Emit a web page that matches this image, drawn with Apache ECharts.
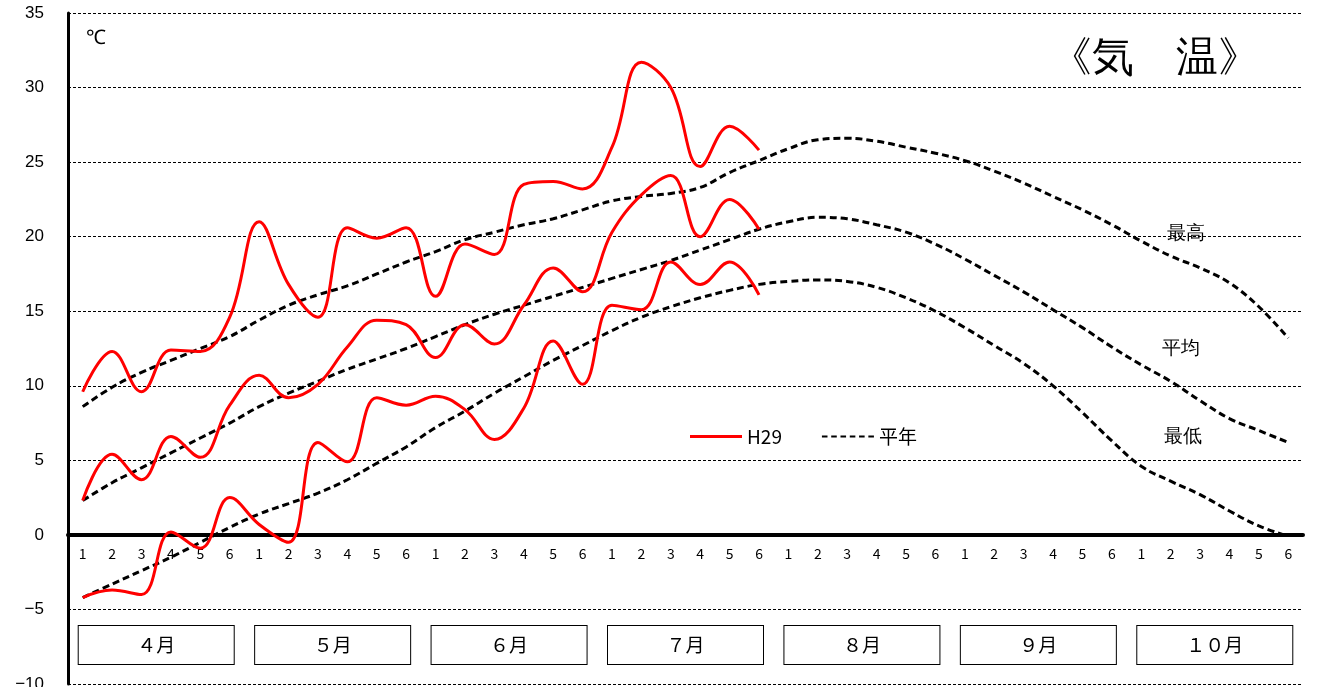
<!DOCTYPE html>
<html><head><meta charset="utf-8">
<script src="https://cdn.jsdelivr.net/npm/echarts@6/dist/echarts.min.js"></script>
<style>html,body{margin:0;padding:0;background:#fff}#c{width:1317px;height:687px}</style>
</head><body><div id="c"></div>
<script>
var months = ['４月','５月','６月','７月','８月','９月','１０月']
var pentads = []
for (var m = 0; m < 7; m++) for (var p = 1; p <= 6; p++) pentads.push(String(p))

// H29 observed (Apr-Jul)
var h29Max = [9.6,12.3,9.6,12.4,12.3,14.6, 21.0,16.8,14.6,20.6,19.9,20.6, 16.0,19.5,18.8,23.5,23.7,23.2, 26.0,31.7,30.0,24.7,27.4,25.8]
var h29Avg = [2.3,5.4,3.7,6.6,5.2,8.7, 10.7,9.2,10.1,12.6,14.4,14.1, 11.9,14.1,12.8,15.4,17.9,16.3, 20.3,22.8,24.1,20.0,22.5,20.5]
var h29Min = [-4.2,-3.7,-4.0,0.2,-0.9,2.5, 0.7,-0.5,6.2,4.9,9.2,8.7, 9.3,8.4,6.4,8.5,13.0,10.1, 15.4,15.1,18.3,16.8,18.3,16.1]

// normals (Apr-Oct)
var normMax = [8.6,9.9,10.9,11.7,12.5,13.3, 14.4,15.4,16.1,16.7,17.5,18.3, 19.0,19.8,20.3,20.8,21.2,21.8, 22.4,22.7,22.9,23.3,24.3,25.1, 25.9,26.5,26.6,26.4,26.0,25.6, 25.1,24.4,23.6,22.7,21.8,20.8, 19.7,18.7,17.9,16.9,15.3,13.2]
var normAvg = [2.3,3.5,4.5,5.5,6.5,7.5, 8.6,9.5,10.3,11.1,11.8,12.5, 13.3,14.1,14.8,15.4,16.0,16.6, 17.2,17.8,18.4,19.1,19.8,20.5, 21.0,21.3,21.2,20.8,20.3,19.5, 18.5,17.4,16.3,15.1,13.9,12.6, 11.4,10.3,9.0,7.8,7.0,6.2]
var normMin = [-4.2,-3.3,-2.4,-1.5,-0.5,0.5, 1.4,2.1,2.8,3.7,4.8,5.9, 7.2,8.3,9.5,10.6,11.7,12.7, 13.7,14.6,15.3,15.9,16.4,16.8, 17.0,17.1,17.0,16.6,15.9,15.0, 13.9,12.7,11.5,10.0,8.2,6.3, 4.6,3.6,2.7,1.6,0.6,-0.1]

var nodata = pentads.slice(h29Max.length).map(function(){return null})
var red = '#ff0000'
function line(name, data, dashed){
  return {name: name, type:'line', data: data, smooth: 0.4, symbol:'none',
    lineStyle:{color: dashed ? '#000' : red, width: 3, type: dashed ? [7,4] : 'solid'},
    itemStyle:{color: dashed ? '#000' : red}, z: dashed ? 2 : 3}
}

var myChart = echarts.init(document.getElementById('c'))
var option = {
  animation:false,
  textStyle:{fontFamily:'Noto Sans CJK JP'},
  grid:{left:68,right:14,top:13,bottom:3,containLabel:false,outerBoundsMode:'none'},
  legend:{left:685,top:422,itemWidth:52,itemHeight:3,itemGap:40,
    textStyle:{fontSize:19,color:'#000'},
    data:[{name:'H29',icon:'rect'},{name:'平年',icon:'path://M0,0h6v2h-6z M10,0h6v2h-6z M20,0h6v2h-6z M30,0h6v2h-6z M40,0h6v2h-6z M50,0h6v2h-6z'}]},
  xAxis:[{type:'category',data:pentads,boundaryGap:true,
    axisLine:{onZero:true,lineStyle:{color:'#000',width:4}},
    axisTick:{show:false},axisLabel:{show:false}},
   {type:'category',data:pentads,position:'bottom',offset:-149,
    axisLine:{show:false},axisTick:{show:false},
    axisLabel:{color:'#000',fontSize:14,margin:12,interval:0}},
   {type:'category',data:months,position:'bottom',offset:-58,
    axisLine:{show:false},axisTick:{show:false},
    axisLabel:{interval:0,margin:0,color:'#000',fontSize:19,
      backgroundColor:'#fff',borderColor:'#000',borderWidth:1,
      width:155,height:38,lineHeight:38,align:'center',verticalAlign:'top'}}],
  yAxis:{type:'value',min:-10,max:35,interval:5,
    axisLine:{show:true,onZero:false,lineStyle:{color:'#000',width:3}},
    axisTick:{show:false},
    axisLabel:{color:'#000',fontSize:17,margin:24,fontFamily:'Liberation Sans',
      formatter:function(v){return String(v).replace('-','−')}},
    splitLine:{lineStyle:{color:'#000',type:[3,2],width:1}}},
  graphic:[
    {type:'text',left:86,top:28,style:{text:'℃',fontSize:20,fill:'#000'}},
    {type:'text',left:1050,top:38,style:{text:'《気　温》',fontSize:42,fill:'#000'}},
    {type:'text',left:1167,top:224,style:{text:'最高',fontSize:19,fill:'#000'}},
    {type:'text',left:1162,top:339,style:{text:'平均',fontSize:19,fill:'#000'}},
    {type:'text',left:1164,top:427,style:{text:'最低',fontSize:19,fill:'#000'}}
  ],
  series:[
    line('平年', normMax, true), line('平年', normAvg, true), line('平年', normMin, true),
    line('H29', h29Max.concat(nodata), false), line('H29', h29Avg.concat(nodata), false), line('H29', h29Min.concat(nodata), false)
  ]
}
myChart.setOption(option)
</script></body></html>
